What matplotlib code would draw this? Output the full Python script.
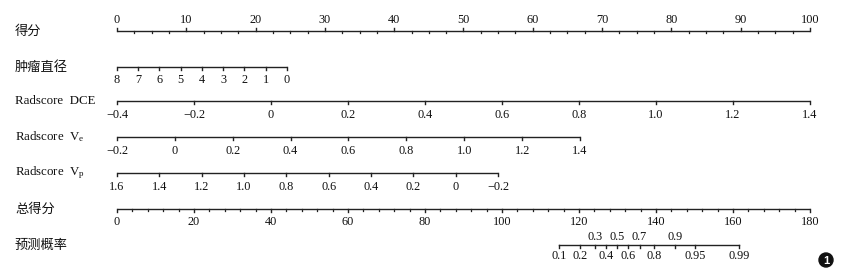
import numpy as np
import matplotlib
matplotlib.use("Agg")
import matplotlib.pyplot as plt
from matplotlib.patches import Ellipse

plt.rcParams['mathtext.fontset'] = 'custom'
plt.rcParams['mathtext.rm'] = 'Liberation Serif'
plt.rcParams['mathtext.it'] = 'Liberation Serif:italic'

# ---------------- data ----------------
points_ticks = [0, 10, 20, 30, 40, 50, 60, 70, 80, 90, 100]

diameter_values = [8, 7, 6, 5, 4, 3, 2, 1, 0]
diameter_points = (0.0, 24.5)        # points at value 8 and at value 0

dce_values = [-0.4, -0.2, 0, 0.2, 0.4, 0.6, 0.8, 1.0, 1.2, 1.4]
dce_labels = ['\u22120.4', '\u22120.2', '0', '0.2', '0.4', '0.6', '0.8', '1.0', '1.2', '1.4']
dce_points = (0.0, 100.0)

ve_values = [-0.2, 0, 0.2, 0.4, 0.6, 0.8, 1.0, 1.2, 1.4]
ve_labels = ['\u22120.2', '0', '0.2', '0.4', '0.6', '0.8', '1.0', '1.2', '1.4']
ve_points = (0.0, 66.8)

vp_values = [1.6, 1.4, 1.2, 1.0, 0.8, 0.6, 0.4, 0.2, 0, -0.2]
vp_labels = ['1.6', '1.4', '1.2', '1.0', '0.8', '0.6', '0.4', '0.2', '0', '\u22120.2']
vp_points = (0.0, 55.0)

total_ticks = [0, 20, 40, 60, 80, 100, 120, 140, 160, 180]
total_max = 180

prob_values = [0.1, 0.2, 0.3, 0.4, 0.5, 0.6, 0.7, 0.8, 0.9, 0.95, 0.99]
prob_labels = ['0.1', '0.2', '0.3', '0.4', '0.5', '0.6', '0.7', '0.8', '0.9', '0.95', '0.99']
prob_above = [False, False, True, False, True, False, True, False, True, False, False]
prob_intercept = 129.9   # total points at logit = 0
prob_slope = 6.89        # total points per logit unit

# ---------------- layout ----------------
W, H = 845, 277
fig = plt.figure(figsize=(W / 100, H / 100), dpi=100)
ax = fig.add_axes([0, 0, 1, 1])
x0_px, x100_px = 117, 810
k = (x100_px - x0_px) / 100.0
ax.set_xlim(-x0_px / k, (W - x0_px) / k)
ax.set_ylim(H, 0)
ax.axis('off')

LC = '#222222'
num_font = dict(family='Liberation Serif', size=8.8, color='#111111')
cjk = ['Noto Sans CJK SC', 'DejaVu Sans']
lab_x = -x0_px / k + 15 / k

def lin(vals, v_start, v_end, p_start, p_end):
    vals = np.asarray(vals, float)
    return p_start + (vals - v_start) / (v_end - v_start) * (p_end - p_start)

def draw_axis(y, pts, labels, tick_len=3, up=False, label_dy=12, minor=None):
    ax.plot([min(pts), max(pts)], [y, y], color=LC, lw=1.0, solid_capstyle='butt')
    d = -tick_len if up else tick_len
    for p in pts:
        ax.plot([p, p], [y, y + d], color=LC, lw=1.0)
    if minor is not None:
        for p in minor:
            ax.plot([p, p], [y, y + 2], color=LC, lw=0.9)
    for p, l in zip(pts, labels):
        ax.text(p, y + label_dy, l, ha='center', va='center', **num_font)

def row_label(y, text, fam=None):
    if fam is None:
        ax.text(lab_x, y, text, ha='left', va='center', family=cjk, size=9.5, color='#111111')
    else:
        ax.text(lab_x, y, text, ha='left', va='center', family=fam, size=9.3, color='#111111')

# Row 1: points
y = 31
row_label(y, '得分')
minor = [m for m in np.arange(0, 100.01, 2.5) if m not in points_ticks]
draw_axis(y, points_ticks, [str(t) for t in points_ticks], up=True, label_dy=-11, minor=minor)

# Row 2: tumour diameter
y = 67
row_label(y, '肿瘤直径')
pts = lin(diameter_values, diameter_values[0], diameter_values[-1], *diameter_points)
draw_axis(y, pts, [str(v) for v in diameter_values], label_dy=13)

# Row 3: Radscore DCE
y = 101
row_label(y, 'Radscore  DCE', fam='Liberation Serif')
pts = lin(dce_values, dce_values[0], dce_values[-1], *dce_points)
draw_axis(y, pts, dce_labels, label_dy=14)

# Row 4: Radscore Ve
y = 137
row_label(y, r'Radscore  V$_{\rm e}$', fam='Liberation Serif')
pts = lin(ve_values, ve_values[0], ve_values[-1], *ve_points)
draw_axis(y, pts, ve_labels, label_dy=14)

# Row 5: Radscore Vp
y = 173
row_label(y, r'Radscore  V$_{\rm p}$', fam='Liberation Serif')
pts = lin(vp_values, vp_values[0], vp_values[-1], *vp_points)
draw_axis(y, pts, vp_labels, label_dy=14)

# Row 6: total points
y = 209
row_label(y, '总得分')
scale = 100.0 / total_max
pts = [t * scale for t in total_ticks]
minor = [m * scale for m in np.arange(0, total_max + 0.01, 4) if m not in total_ticks]
draw_axis(y, pts, [str(t) for t in total_ticks], label_dy=13, minor=minor)

# Row 7: predicted probability
y = 245
row_label(y, '预测概率')
pv = np.asarray(prob_values)
logit = np.log(pv / (1 - pv))
pts = (prob_intercept + prob_slope * logit) * scale
ax.plot([pts.min(), pts.max()], [y, y], color=LC, lw=1.0)
for p, l, a in zip(pts, prob_labels, prob_above):
    ax.plot([p, p], [y, y + 3], color=LC, lw=1.0)
    ax.text(p, y - 8 if a else y + 11, l, ha='center', va='center', **num_font)

# badge
cx = (826 - x0_px) / k
ax.add_patch(Ellipse((cx, 260), 14 / k, 14, color='#111111'))
ax.text(cx, 260.5, '1', ha='center', va='center', color='white',
        family='Liberation Sans', weight='bold', size=8)

fig.savefig('out.png', dpi=100)
